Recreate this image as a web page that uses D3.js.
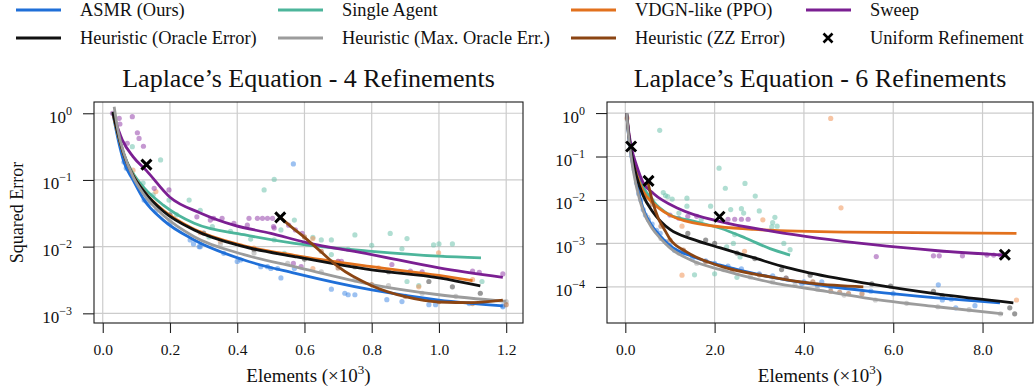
<!DOCTYPE html>
<html><head><meta charset="utf-8">
<script src="https://cdn.jsdelivr.net/npm/d3@7"></script>
<style>
body{margin:0;background:#fff}
svg{display:block}
svg text{font-family:"Liberation Serif","Times New Roman",serif !important;fill:#111}
</style>
</head><body>
<svg id="chart" width="1034" height="392" font-family="Liberation Serif"></svg>
<script>
// ---------------- DATA ----------------
const legendNames = ["ASMR (Ours)", "Heuristic (Oracle Error)", "Single Agent", "Heuristic (Max. Oracle Err.)",
                     "VDGN-like (PPO)", "Heuristic (ZZ Error)", "Sweep", "Uniform Refinement"];
const titles = ["Laplace\u2019s Equation - 4 Refinements", "Laplace\u2019s Equation - 6 Refinements"];
const xTickValsL = [0, 0.2, 0.4, 0.6, 0.8, 1.0, 1.2];
const xTickValsR = [0, 2, 4, 6, 8];
const yTickValsL = [1, 1e-1, 1e-2, 1e-3];
const yTickValsR = [1, 1e-1, 1e-2, 1e-3, 1e-4];
const yTickExpL = ["0", "\u22121", "\u22122", "\u22123"];
const yTickExpR = ["0", "\u22121", "\u22122", "\u22123", "\u22124"];

// ---- Left panel (4 refinements), x in thousands of elements ----
const asmrCurveL = [[0.03,1.0],[0.045,0.42],[0.063,0.186],[0.09,0.10],[0.123,0.050],[0.18,0.025],[0.272,0.0126],[0.42,0.0063],[0.57,0.0040],[0.8,0.00224],[1.0,0.00158],[1.19,0.00129]];
const oracleCurveL = [[0.03,1.05],[0.045,0.5],[0.063,0.24],[0.09,0.117],[0.123,0.067],[0.18,0.034],[0.272,0.0178],[0.42,0.0100],[0.57,0.0071],[0.8,0.00447],[1.0,0.0034],[1.123,0.00257]];
const singleCurveL = [[0.03,1.0],[0.045,0.48],[0.063,0.24],[0.09,0.126],[0.123,0.076],[0.18,0.042],[0.272,0.0224],[0.42,0.0151],[0.57,0.0112],[0.8,0.0085],[1.0,0.0072],[1.125,0.0068]];
const maxOracleCurveL = [[0.034,1.25],[0.045,0.56],[0.063,0.25],[0.09,0.112],[0.123,0.060],[0.18,0.0295],[0.272,0.0141],[0.42,0.0076],[0.57,0.0050],[0.8,0.0027],[1.0,0.0019],[1.2,0.00151]];
const vdgnCurveL = [[0.03,1.0],[0.045,0.49],[0.063,0.235],[0.09,0.118],[0.123,0.067],[0.18,0.035],[0.272,0.0182],[0.42,0.0103],[0.57,0.0074],[0.8,0.0050],[1.0,0.0037],[1.10,0.0031]];
const zzCurveL = [[0.528,0.0275],[0.56,0.020],[0.6,0.0138],[0.65,0.0083],[0.7,0.0050],[0.8,0.0026],[0.9,0.00178],[1.0,0.00148],[1.1,0.00145],[1.19,0.00158]];
const sweepCurveL = [[0.03,1.0],[0.058,0.40],[0.09,0.224],[0.13,0.138],[0.2,0.055],[0.29,0.032],[0.39,0.021],[0.5,0.0158],[0.6,0.0117],[0.8,0.0076],[1.0,0.0048],[1.19,0.00347]];
const uniformL = [[0.13,0.17],[0.528,0.0275]];

const asmrPtsL = [[0.063,0.186],[0.07,0.15],[0.123,0.05],[0.13,0.048],[0.14,0.045],[0.16,0.035],[0.2,0.022],[0.26,0.0126],[0.27,0.011],[0.287,0.010],[0.29,0.010],[0.36,0.0079],[0.40,0.006],[0.41,0.0063],[0.47,0.005],[0.49,0.005],[0.50,0.0047],[0.52,0.0047],[0.53,0.0034],[0.567,0.174],[0.57,0.0047],[0.68,0.0023],[0.72,0.002],[0.73,0.0019],[0.75,0.0019],[0.845,0.0016],[0.89,0.0015],[0.97,0.00135],[0.99,0.00135],[1.09,0.0014],[1.19,0.00129],[1.19,0.00125]];
const singlePtsL = [[0.088,0.316],[0.12,0.09],[0.15,0.06],[0.172,0.2],[0.197,0.05],[0.22,0.03],[0.257,0.05],[0.29,0.035],[0.316,0.014],[0.326,0.02],[0.38,0.017],[0.44,0.013],[0.48,0.071],[0.51,0.102],[0.51,0.0126],[0.53,0.0178],[0.54,0.0079],[0.57,0.025],[0.625,0.0138],[0.65,0.0126],[0.68,0.0126],[0.68,0.0076],[0.73,0.0091],[0.75,0.015],[0.80,0.0105],[0.855,0.0158],[0.89,0.0093],[0.905,0.0132],[0.905,0.003],[0.94,0.0026],[0.984,0.0106],[1.0,0.011],[1.04,0.011],[1.128,0.003]];
const vdgnPtsL = [[0.09,0.14],[0.158,0.067],[0.29,0.0162],[0.35,0.012],[0.45,0.0095],[0.625,0.0132],[0.625,0.0047],[0.7,0.006],[0.82,0.0048],[0.94,0.0025],[0.999,0.0081],[1.1,0.0032]];
const sweepPtsL = [[0.029,1.0],[0.049,0.84],[0.088,0.89],[0.051,0.69],[0.073,0.355],[0.103,0.51],[0.108,0.42],[0.121,0.32],[0.153,0.075],[0.197,0.071],[0.28,0.028],[0.32,0.025],[0.33,0.0266],[0.355,0.0266],[0.39,0.0224],[0.43,0.021],[0.435,0.0266],[0.46,0.0266],[0.475,0.0266],[0.49,0.0266],[0.505,0.0266],[0.508,0.02],[0.51,0.019],[0.553,0.021],[0.573,0.0178],[0.593,0.0158],[0.567,0.0056],[0.59,0.005],[0.70,0.006],[0.71,0.006],[0.86,0.0054],[0.915,0.0043],[0.95,0.0042],[1.10,0.0043],[1.12,0.0041],[1.19,0.0039]];
const oraclePtsL = [[0.2,0.03],[0.3,0.016],[0.45,0.009],[0.6,0.0065],[0.75,0.005],[0.85,0.0042],[0.97,0.003],[1.04,0.0025],[1.123,0.002]];
const maxOraclePtsL = [[0.12,0.07],[0.2,0.025],[0.35,0.011],[0.45,0.008],[0.55,0.0056],[0.65,0.0042],[0.75,0.0032],[0.85,0.0026],[0.95,0.002],[1.05,0.0018],[1.2,0.0015]];
const zzPtsL = [[0.6,0.014],[0.65,0.0085],[0.7,0.0048],[0.8,0.0027],[0.9,0.0018],[1.0,0.0015],[1.1,0.0014],[1.2,0.00135]];

// ---- Right panel (6 refinements) ----
const asmrCurveR = [[0.03,1.0],[0.08,0.251],[0.15,0.079],[0.25,0.0251],[0.4,0.0063],[0.6,0.00251],[0.8,0.00141],[1.0,0.00089],[1.5,0.0005],[2.13,0.000316],[3.24,0.00017],[4.5,0.000105],[5.48,7.9e-5],[6.97,5.6e-5],[8.39,4.3e-5]];
const oracleCurveR = [[0.03,1.0],[0.08,0.28],[0.15,0.1],[0.25,0.035],[0.4,0.0126],[0.6,0.0056],[0.8,0.00316],[1.0,0.0021],[1.5,0.00126],[2.13,0.00079],[2.87,0.00047],[3.5,0.0003],[4.0,0.000224],[5.48,0.000117],[6.97,6.9e-5],[8.69,4.3e-5]];
const singleCurveR = [[0.03,1.0],[0.08,0.316],[0.15,0.112],[0.25,0.045],[0.4,0.02],[0.6,0.01],[1.0,0.0045],[1.5,0.0033],[2.13,0.00224],[2.7,0.00132],[3.24,0.00076],[3.69,0.00054]];
const maxOracleCurveR = [[0.03,1.0],[0.08,0.251],[0.15,0.071],[0.25,0.02],[0.4,0.0056],[0.6,0.00224],[0.8,0.00126],[1.0,0.00079],[1.5,0.0004],[2.13,0.00025],[3.24,0.000129],[4.5,7.9e-5],[5.48,5.4e-5],[6.97,3.5e-5],[8.46,2.4e-5]];
const vdgnCurveR = [[0.03,1.0],[0.08,0.316],[0.15,0.112],[0.25,0.04],[0.4,0.0158],[0.6,0.0089],[0.86,0.0054],[1.5,0.003],[2.87,0.0021],[5.0,0.00182],[8.76,0.0017]];
const zzCurveR = [[0.5,0.0275],[0.6,0.01],[0.75,0.00355],[0.86,0.00224],[1.0,0.00126],[1.38,0.00063],[2.13,0.0003],[3.24,0.00017],[4.2,0.00012],[5.33,0.0001]];
const sweepCurveR = [[0.03,1.0],[0.08,0.355],[0.15,0.141],[0.25,0.063],[0.4,0.025],[0.63,0.0141],[1.2,0.0063],[2.13,0.00316],[3.3,0.0019],[5.5,0.00095],[7.0,0.00068],[8.46,0.00054]];
const uniformR = [[0.13,0.17],[0.52,0.0275],[2.11,0.0041],[8.5,0.00055]];

const asmrPtsR = [[0.1,0.2],[0.15,0.1],[0.2,0.05],[0.25,0.025],[0.3,0.014],[0.35,0.01],[0.4,0.006],[0.45,0.0045],[0.52,0.0035],[0.6,0.0028],[0.7,0.002],[0.78,0.0017],[0.9,0.0011],[1.0,0.0009],[1.1,0.0007],[1.3,0.0006],[1.5,0.00045],[1.8,0.0004],[2.0,0.00035],[2.3,0.0003],[2.6,0.00026],[3.0,0.0002],[3.3,0.00018],[3.6,0.00016],[3.95,0.00012],[4.0,0.00013],[4.3,0.00011],[4.4,0.00013],[4.6,0.0001],[5.5,8e-5],[6.0,7e-5],[7.01,0.000112],[7.1,5e-5],[7.3,5.2e-5],[7.4,3.3e-5],[7.83,3.7e-5]];
const singlePtsR = [[0.3,0.02],[0.5,0.012],[0.6,0.01],[0.77,0.4],[0.85,0.0148],[0.9,0.0126],[0.95,0.012],[1.05,0.0105],[1.2,0.005],[1.38,0.011],[1.38,0.0072],[1.55,0.00019],[1.7,0.0035],[1.91,0.0072],[2.0,0.0002],[2.10,0.054],[2.24,0.0186],[2.27,0.00083],[2.36,0.006],[2.42,0.001],[2.45,0.0016],[2.5,0.000166],[2.57,0.00049],[2.6,0.0063],[2.65,0.005],[2.68,0.024],[2.91,0.0123],[3.0,0.0056],[3.28,0.0024],[3.3,0.003],[3.35,0.004],[3.4,0.0025],[3.55,0.001],[3.69,0.00072]];
const vdgnPtsR = [[0.04,0.76],[1.27,0.0025],[1.27,0.000186],[2.67,0.00066],[3.08,0.0035],[4.60,0.75],[4.83,0.0066],[8.76,5e-5]];
const sweepPtsR = [[0.19,0.07],[0.35,0.017],[0.45,0.014],[1.0,0.0045],[1.2,0.0038],[1.4,0.0042],[1.6,0.0042],[2.3,0.0036],[2.45,0.0036],[2.6,0.0036],[2.75,0.0036],[5.62,0.0005],[6.9,0.00052],[7.03,0.00052],[7.55,0.00052],[8.1,0.00054],[8.25,0.00054],[8.4,0.00054]];
const oraclePtsR = [[1.4,0.0017],[1.8,0.0012],[2.0,0.001],[2.5,0.0006],[2.9,0.00045],[3.5,0.00025],[4.14,0.000186],[5.52,0.000117],[5.94,0.000105],[6.9,7.9e-5],[7.1,6.3e-5],[8.61,3.3e-5],[8.72,2.4e-5]];
const maxOraclePtsR = [[0.5,0.004],[0.8,0.0013],[1.2,0.0006],[1.6,0.00035],[2.2,0.00025],[2.8,0.00017],[3.3,0.00013],[3.8,0.00011],[4.3,9e-5],[4.9,6.5e-5],[5.6,5e-5],[6.3,4.2e-5],[7.0,3.5e-5],[7.7,3e-5],[8.4,2.4e-5]];
const zzPtsR = [[0.6,0.008],[0.8,0.0025],[1.0,0.0012],[1.3,0.0007],[1.8,0.00038],[2.4,0.00025],[3.0,0.00019],[3.6,0.00016],[4.2,0.00013],[4.6,8e-5],[4.8,7.5e-5],[5.0,7e-5],[5.3,7e-5]];

// ---------------- STYLE ----------------
const FONT = "Liberation Serif";
const col = {
  asmr: "#1f6fd8", oracle: "#111111", single: "#4db59b", maxOracle: "#9c9c9c",
  vdgn: "#e2711d", zz: "#8b4513", sweep: "#7b1f92", uniform: "#000000"
};

const svg = d3.select("#chart");

// ---------------- LEGEND ----------------
const legendItems = [
  {name: legendNames[0], c: col.asmr, col: 0, row: 0},
  {name: legendNames[1], c: col.oracle, col: 0, row: 1},
  {name: legendNames[2], c: col.single, col: 1, row: 0},
  {name: legendNames[3], c: col.maxOracle, col: 1, row: 1},
  {name: legendNames[4], c: col.vdgn, col: 2, row: 0},
  {name: legendNames[5], c: col.zz, col: 2, row: 1},
  {name: legendNames[6], c: col.sweep, col: 3, row: 0},
  {name: legendNames[7], c: col.uniform, col: 3, row: 1, marker: true}
];
const legColX = [16, 278, 571, 806];
const legRowY = [10, 38];
const lg = svg.append("g");
legendItems.forEach(it => {
  const x0 = legColX[it.col], y0 = legRowY[it.row];
  if (it.marker) {
    const cx = x0 + 22, s = 4.5;
    lg.append("path").attr("d", `M${cx-s},${y0-s}L${cx+s},${y0+s}M${cx-s},${y0+s}L${cx+s},${y0-s}`)
      .attr("stroke", it.c).attr("stroke-width", 2.6);
  } else {
    lg.append("line").attr("x1", x0).attr("x2", x0 + 45).attr("y1", y0).attr("y2", y0)
      .attr("stroke", it.c).attr("stroke-width", 3);
  }
  lg.append("text").attr("x", x0 + 64).attr("y", y0 + 6).attr("font-size", 18.4)
    .attr("font-family", FONT).text(it.name);
});

// ---------------- PANELS ----------------
const panels = [
  {
    box: {l: 94, r: 523, t: 102, b: 323},
    xDomain: [-0.026, 1.25], yDomain: [Math.pow(10, -3.145), Math.pow(10, 0.169)],
    xTicks: xTickValsL, yTicks: yTickValsL, yExp: yTickExpL, title: titles[0],
    curves: {asmr: asmrCurveL, oracle: oracleCurveL, single: singleCurveL, maxOracle: maxOracleCurveL, vdgn: vdgnCurveL, zz: zzCurveL, sweep: sweepCurveL},
    pts: {asmr: asmrPtsL, oracle: oraclePtsL, single: singlePtsL, maxOracle: maxOraclePtsL, vdgn: vdgnPtsL, zz: zzPtsL, sweep: sweepPtsL},
    uniform: uniformL, ylabel: true
  },
  {
    box: {l: 607, r: 1033, t: 102, b: 323},
    xDomain: [-0.41, 9.13], yDomain: [Math.pow(10, -4.83), Math.pow(10, 0.254)],
    xTicks: xTickValsR, yTicks: yTickValsR, yExp: yTickExpR, title: titles[1],
    curves: {asmr: asmrCurveR, oracle: oracleCurveR, single: singleCurveR, maxOracle: maxOracleCurveR, vdgn: vdgnCurveR, zz: zzCurveR, sweep: sweepCurveR},
    pts: {asmr: asmrPtsR, oracle: oraclePtsR, single: singlePtsR, maxOracle: maxOraclePtsR, vdgn: vdgnPtsR, zz: zzPtsR, sweep: sweepPtsR},
    uniform: uniformR, ylabel: false
  }
];

const drawOrderPts = ["asmr", "single", "vdgn", "sweep", "oracle", "maxOracle", "zz"];
const drawOrderLines = ["asmr", "single", "vdgn", "sweep", "oracle", "maxOracle", "zz"];
const ptColor = {asmr: "#4a8ee6", oracle: "#444", single: "#6fc3ad", maxOracle: "#a8a8a8", vdgn: "#f0955a", zz: "#a8643a", sweep: "#9644ab"};

panels.forEach((p, i) => {
  const b = p.box;
  const x = d3.scaleLinear().domain(p.xDomain).range([b.l, b.r]);
  const y = d3.scaleLog().domain(p.yDomain).range([b.b, b.t]);
  const g = svg.append("g");

  // grid
  g.selectAll(".gx").data(p.xTicks).enter().append("line")
    .attr("x1", d => x(d)).attr("x2", d => x(d)).attr("y1", b.t).attr("y2", b.b)
    .attr("stroke", "#cccccc").attr("stroke-width", 1.2);
  g.selectAll(".gy").data(p.yTicks).enter().append("line")
    .attr("y1", d => y(d)).attr("y2", d => y(d)).attr("x1", b.l).attr("x2", b.r)
    .attr("stroke", "#cccccc").attr("stroke-width", 1.2);

  // clip
  const cid = "clip" + i;
  svg.append("clipPath").attr("id", cid).append("rect")
    .attr("x", b.l).attr("y", b.t).attr("width", b.r - b.l).attr("height", b.b - b.t);
  const pg = g.append("g").attr("clip-path", `url(#${cid})`);

  // scatter
  drawOrderPts.forEach(k => {
    pg.append("g").selectAll("circle").data(p.pts[k]).enter().append("circle")
      .attr("cx", d => x(d[0])).attr("cy", d => y(d[1])).attr("r", 2.6)
      .attr("fill", ptColor[k]).attr("fill-opacity", 0.55);
  });

  // lines
  const line = d3.line().x(d => x(d[0])).y(d => y(d[1])).curve(d3.curveMonotoneX);
  drawOrderLines.forEach(k => {
    pg.append("path").attr("d", line(p.curves[k])).attr("fill", "none")
      .attr("stroke", col[k]).attr("stroke-width", 2.8).attr("stroke-linecap", "butt");
  });

  // uniform markers
  pg.selectAll(".u").data(p.uniform).enter().append("path")
    .attr("d", d => { const cx = x(d[0]), cy = y(d[1]), s = 5;
      return `M${cx-s},${cy-s}L${cx+s},${cy+s}M${cx-s},${cy+s}L${cx+s},${cy-s}`; })
    .attr("stroke", "#000").attr("stroke-width", 3);

  // frame
  g.append("rect").attr("x", b.l).attr("y", b.t).attr("width", b.r - b.l).attr("height", b.b - b.t)
    .attr("fill", "none").attr("stroke", "#1a1a1a").attr("stroke-width", 1.1);

  // x axis
  const xa = g.append("g").attr("transform", `translate(0,${b.b})`)
    .call(d3.axisBottom(x).tickValues(p.xTicks).tickSize(10).tickFormat(d3.format(".1f")));
  xa.attr("font-family", FONT);
  xa.select(".domain").remove();
  xa.selectAll(".tick line").attr("stroke", "#222").attr("stroke-width", 1.1);
  xa.selectAll(".tick text").attr("y", 32).attr("dy", null).attr("font-size", 15.5)
    .attr("font-family", FONT).attr("fill", "#111");

  // y axis
  const ya = g.append("g").attr("transform", `translate(${b.l},0)`)
    .call(d3.axisLeft(y).tickValues(p.yTicks).tickSize(11).tickFormat(() => ""));
  ya.attr("font-family", FONT);
  ya.select(".domain").remove();
  ya.selectAll(".tick line").attr("stroke", "#222").attr("stroke-width", 1.1);
  ya.selectAll(".tick text").remove();
  ya.selectAll(".tick").each(function(d, j) {
    const t = d3.select(this).append("text").attr("x", -22).attr("y", 9)
      .attr("text-anchor", "end").attr("font-size", 17).attr("font-family", FONT).attr("fill", "#111");
    t.append("tspan").text("10");
    t.append("tspan").attr("font-size", 12).attr("dy", -8).text(p.yExp[j]);
  });

  // title
  g.append("text").attr("x", (b.l + b.r) / 2).attr("y", 87).attr("text-anchor", "middle")
    .attr("font-size", 26).attr("font-family", FONT).text(p.title);

  // x label
  const xl = g.append("text").attr("x", (b.l + b.r) / 2).attr("y", 382).attr("text-anchor", "middle")
    .attr("font-size", 19).attr("font-family", FONT);
  xl.append("tspan").text("Elements (\u00d710");
  xl.append("tspan").attr("font-size", 13).attr("dy", -8).text("3");
  xl.append("tspan").attr("dy", 8).text(")");

  if (p.ylabel) {
    g.append("text").attr("transform", `translate(23,${(b.t + b.b) / 2}) rotate(-90)`)
      .attr("text-anchor", "middle").attr("font-size", 18).attr("font-family", FONT).text("Squared Error");
  }
});
</script>
</body></html>
